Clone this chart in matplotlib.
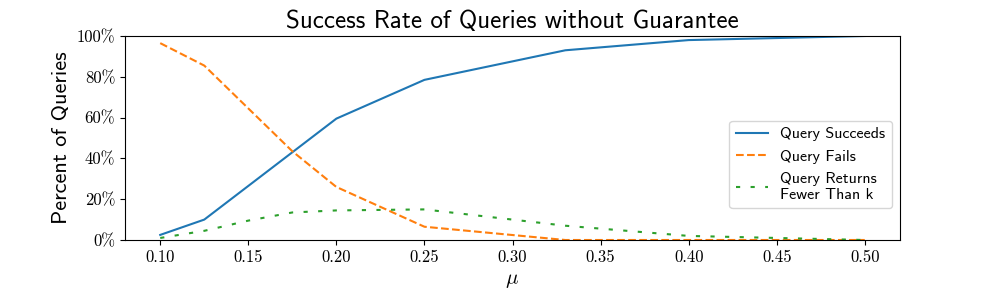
import matplotlib
matplotlib.use("Agg")
import matplotlib.pyplot as plt

mu = [0.10, 0.125, 0.15, 0.175, 0.20, 0.25, 0.33, 0.40, 0.50]
succeeds = [2.5, 10.0, 26.5, 43.0, 59.5, 78.5, 93.0, 98.0, 100.0]
fails = [96.5, 85.5, 64.5, 43.5, 26.0, 6.5, 0.0, 0.0, 0.0]
fewer = [1.0, 4.5, 9.5, 13.5, 14.5, 15.0, 7.0, 2.0, 0.0]

labels = ["Query Succeeds", "Query Fails", "Query Returns\nFewer Than k"]
xticks = [0.10, 0.15, 0.20, 0.25, 0.30, 0.35, 0.40, 0.45, 0.50]
yticks = [0, 20, 40, 60, 80, 100]

plt.rcParams["mathtext.fontset"] = "cm"
plt.rcParams["font.family"] = ["cmss10", "DejaVu Sans"]
plt.rcParams["axes.unicode_minus"] = False

fig, ax = plt.subplots(figsize=(10, 3), dpi=100)
fig.subplots_adjust(left=0.125, right=0.9, bottom=0.2, top=0.88)

ax.plot(mu, succeeds, "-", label=labels[0])
ax.plot(mu, fails, "--", label=labels[1])
ax.plot(mu, fewer, linestyle=(0, (2, 5)), label=labels[2])

ax.set_ylim(0, 100)
ax.set_xticks(xticks)
ax.set_xticklabels([f"{t:.2f}" for t in xticks], fontfamily="cmr10", fontsize=12)
ax.set_yticks(yticks)
ax.set_yticklabels([f"{t}%" for t in yticks], fontfamily="cmr10", fontsize=12)

ax.set_title("Success Rate of Queries without Guarantee", fontsize=18)
ax.set_ylabel("Percent of Queries", fontsize=16)
ax.set_xlabel(r"$\mu$", fontsize=15)
ax.legend(loc="center right", bbox_to_anchor=(1.0, 0.37), fontsize=11.5)

fig.savefig("out.png", dpi=100)
